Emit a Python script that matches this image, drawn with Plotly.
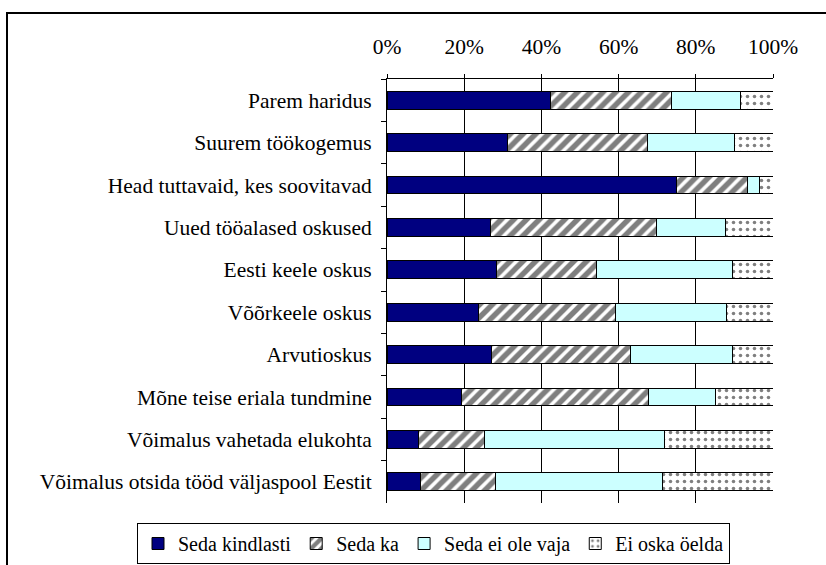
import plotly.graph_objects as go

categories = [
    "Parem haridus",
    "Suurem töökogemus",
    "Head tuttavaid, kes soovitavad",
    "Uued tööalased oskused",
    "Eesti keele oskus",
    "Võõrkeele oskus",
    "Arvutioskus",
    "Mõne teise eriala tundmine",
    "Võimalus vahetada elukohta",
    "Võimalus otsida tööd väljaspool Eestit",
]
seda_kindlasti = [42.4, 31.1, 75.0, 26.9, 28.4, 23.7, 27.0, 19.4, 8.1, 8.7]
seda_ka = [31.2, 36.3, 18.4, 42.9, 26.0, 35.4, 36.0, 48.4, 17.1, 19.5]
ei_ole_vaja = [18.1, 22.5, 3.0, 17.9, 35.0, 28.9, 26.4, 17.3, 46.7, 43.1]
ei_oska = [8.3, 10.1, 3.6, 12.3, 10.6, 12.0, 10.6, 14.9, 28.1, 28.7]
series_names = ["Seda kindlasti", "Seda ka", "Seda ei ole vaja", "Ei oska öelda"]
tick_vals = [0, 20, 40, 60, 80, 100]
tick_text = ["0%", "20%", "40%", "60%", "80%", "100%"]

FONT = "Liberation Serif, Times New Roman, serif"
FS = 21.5

fig = go.Figure()
styles = [
    dict(color="#000080"),
    dict(color="white", pattern=dict(shape="/", fgcolor="black", bgcolor="white", size=9, solidity=0.6)),
    dict(color="#CCFFFF"),
    dict(color="white", pattern=dict(shape=".", fgcolor="black", bgcolor="white", size=7, solidity=0.2)),
]
for name, vals, st in zip(series_names, [seda_kindlasti, seda_ka, ei_ole_vaja, ei_oska], styles):
    marker = dict(line=dict(color="black", width=1), **st)
    fig.add_trace(go.Bar(name=name, x=vals, y=categories, orientation="h", marker=marker))

L, R, T, B = 387, 773, 79, 503
W, H = 826, 565

def px_x(p):
    return (p - L) / (R - L)

def px_y(p):
    return (B - p) / (B - T)

fig.update_layout(
    width=W, height=H,
    barmode="stack", bargap=0.58,
    paper_bgcolor="white", plot_bgcolor="white",
    margin=dict(l=L, r=W - R, t=T, b=H - B, autoexpand=False),
    font=dict(family=FONT, size=FS, color="black"),
    showlegend=True,
    legend=dict(
        orientation="h", traceorder="normal",
        x=px_x(137), xanchor="left", y=px_y(523), yanchor="top",
        bordercolor="black", borderwidth=1, bgcolor="white",
        font=dict(family=FONT, size=20), itemwidth=30, tracegroupgap=0,
    ),
    xaxis=dict(
        side="top", range=[0, 100], tickvals=tick_vals, ticktext=tick_text,
        showgrid=True, gridcolor="black", gridwidth=1,
        showline=True, linecolor="black", linewidth=1,
        ticks="outside", ticklen=4, tickcolor="black", zeroline=False,
        ticklabelstandoff=11, fixedrange=True,
    ),
    yaxis=dict(
        type="category", autorange="reversed",
        showline=True, linecolor="black", linewidth=1,
        ticks="outside", tickson="boundaries", ticklen=5, tickcolor="black",
        showgrid=False, ticklabelstandoff=10,
    ),
    shapes=[
        dict(type="rect", xref="paper", yref="paper",
             x0=px_x(7), x1=px_x(850),
             y0=px_y(600), y1=px_y(13),
             line=dict(color="black", width=2), fillcolor="rgba(0,0,0,0)", layer="below"),
    ],
)

fig.write_html(
    "out.html",
    config={"displayModeBar": False},
    post_script="document.body.style.margin='0';document.body.style.overflow='hidden';",
)
